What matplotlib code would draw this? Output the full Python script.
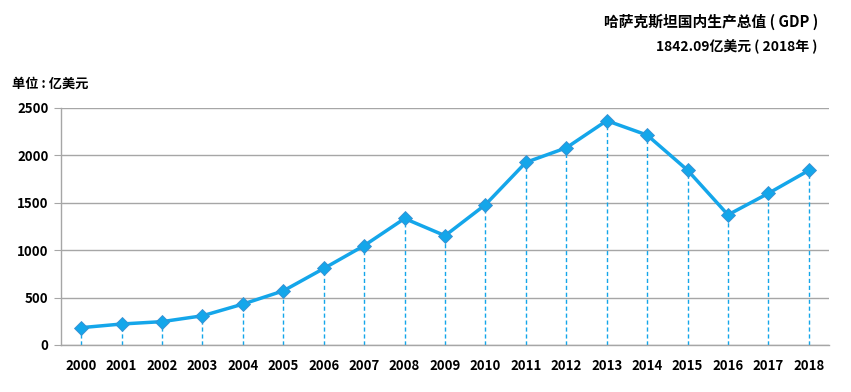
import matplotlib.pyplot as plt
import numpy as np

plt.rcParams['font.family'] = ['Noto Sans CJK SC', 'DejaVu Sans']

years = ['2000', '2001', '2002', '2003', '2004', '2005', '2006', '2007', '2008', '2009',
         '2010', '2011', '2012', '2013', '2014', '2015', '2016', '2017', '2018']
gdp = [182.9, 221.5, 246.4, 308.3, 431.5, 571.2, 807.0, 1048.5, 1334.4, 1153.1,
       1480.5, 1926.3, 2080.0, 2366.3, 2214.2, 1843.9, 1372.8, 1600.0, 1842.1]

color = '#14A6EA'

fig = plt.figure(figsize=(8.51, 3.92), dpi=100)
ax = fig.add_axes([0.0717, 0.1199, 0.9025, 0.6046])

x = np.arange(len(years))
ax.vlines(x, 0, gdp, colors=color, linestyles=(0, (3, 2)), linewidth=1.0, zorder=2)
ax.plot(x, gdp, color=color, linewidth=2.5, marker='D', markersize=7.5,
        markerfacecolor=color, markeredgecolor='#3a8fd0', markeredgewidth=0.6, zorder=3)

ax.set_xlim(-0.5, len(years) - 0.5)
ax.set_ylim(0, 2500)
ax.set_yticks([0, 500, 1000, 1500, 2000, 2500])
ax.set_xticks(x)
ax.set_xticklabels(years)
ax.grid(axis='y', color='#a6a6a6', linewidth=1.0, zorder=0)
ax.set_axisbelow(True)

for s in ['top', 'right']:
    ax.spines[s].set_visible(False)
ax.spines['left'].set_color('#a6a6a6')
ax.spines['bottom'].set_color('#a6a6a6')
ax.spines['left'].set_linewidth(1.0)
ax.spines['bottom'].set_linewidth(1.0)
ax.tick_params(axis='y', length=5, color='#a6a6a6', labelsize=9.5, pad=4)
ax.tick_params(axis='x', length=0, labelsize=9.5, pad=10)
for lab in ax.get_xticklabels() + ax.get_yticklabels():
    lab.set_fontweight('bold')

fig.text(0.961, 0.944, '哈萨克斯坦国内生产总值 ( GDP )', ha='right', va='center',
         fontsize=10.6, fontweight='bold')
fig.text(0.961, 0.880, '1842.09亿美元 ( 2018年 )', ha='right', va='center',
         fontsize=10, fontweight='bold')
fig.text(0.014, 0.785, '单位 : 亿美元', ha='left', va='center',
         fontsize=9.5, fontweight='bold')

fig.savefig('out.png', dpi=100)
